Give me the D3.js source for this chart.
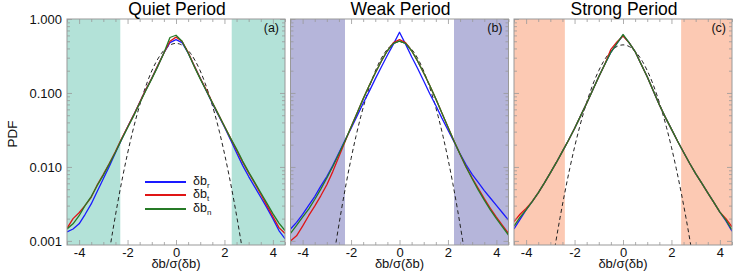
<!DOCTYPE html>
<html>
<head>
<meta charset="utf-8">
<script src="https://cdn.jsdelivr.net/npm/d3@7"></script>
<style>
  html, body { margin: 0; padding: 0; background: #fff; }
  svg { display: block; font-family: "Liberation Sans", Arial, Helvetica, sans-serif; }
</style>
</head>
<body>
<svg id="chart" width="752" height="272"></svg>
<script>
// ---------------- data ----------------
const panelTitles = ["Quiet Period", "Weak Period", "Strong Period"];
const panelTags = ["(a)", "(b)", "(c)"];
const seriesNames = ["r", "t", "n"];
const shadeEdges = [2.3, 2.25, 2.4];

const xBins = [-4.5, -4.25, -4.0, -3.75, -3.5, -3.25, -3.0, -2.75, -2.5, -2.25, -2.0, -1.75, -1.5, -1.25, -1.0, -0.75, -0.5, -0.25,
  0, 0.25, 0.5, 0.75, 1.0, 1.25, 1.5, 1.75, 2.0, 2.25, 2.5, 2.75, 3.0, 3.25, 3.5, 3.75, 4.0, 4.25, 4.5];

// Quiet period
const quietBr = [0.00132, 0.00145, 0.00170, 0.00229, 0.00316, 0.00468, 0.00692, 0.0102, 0.0155, 0.0234, 0.0347, 0.0501, 0.0741, 0.110, 0.158, 0.234, 0.347, 0.479,
  0.525, 0.479, 0.347, 0.234, 0.158, 0.107, 0.0724, 0.0501, 0.0347, 0.0234, 0.0155, 0.0105, 0.00741, 0.00537, 0.00389, 0.00282, 0.00200, 0.00138, 0.00107];
const quietBt = [0.00148, 0.00200, 0.00240, 0.00302, 0.00389, 0.00575, 0.00794, 0.0112, 0.0162, 0.0240, 0.0347, 0.0501, 0.0741, 0.110, 0.158, 0.234, 0.347, 0.501,
  0.569, 0.501, 0.355, 0.234, 0.158, 0.110, 0.0741, 0.0513, 0.0355, 0.0245, 0.0170, 0.0117, 0.00832, 0.00603, 0.00427, 0.00302, 0.00214, 0.00151, 0.00126];
const quietBn = [0.00145, 0.00170, 0.00219, 0.00302, 0.00398, 0.00562, 0.00776, 0.0110, 0.0158, 0.0234, 0.0339, 0.0490, 0.0724, 0.107, 0.155, 0.229, 0.347, 0.562,
  0.603, 0.501, 0.347, 0.229, 0.155, 0.107, 0.0741, 0.0513, 0.0355, 0.0245, 0.0174, 0.0120, 0.00851, 0.00617, 0.00447, 0.00324, 0.00234, 0.00174, 0.00138];

// Weak period
const weakBr = [0.00145, 0.00178, 0.00229, 0.00302, 0.00398, 0.00550, 0.00741, 0.0105, 0.0155, 0.0229, 0.0331, 0.0490, 0.0724, 0.105, 0.155, 0.224, 0.324, 0.457,
  0.661, 0.457, 0.309, 0.214, 0.145, 0.0977, 0.0676, 0.0457, 0.0316, 0.0219, 0.0151, 0.0107, 0.00794, 0.00617, 0.00479, 0.00380, 0.00302, 0.00240, 0.00191];
const weakBt = [0.00100, 0.00117, 0.00158, 0.00219, 0.00295, 0.00407, 0.00575, 0.00871, 0.0138, 0.0219, 0.0347, 0.0537, 0.0832, 0.126, 0.186, 0.269, 0.372, 0.479,
  0.525, 0.479, 0.372, 0.269, 0.186, 0.126, 0.0832, 0.0537, 0.0347, 0.0224, 0.0148, 0.0100, 0.00708, 0.00513, 0.00372, 0.00275, 0.00209, 0.00162, 0.00126];
const weakBn = [0.00126, 0.00162, 0.00209, 0.00269, 0.00363, 0.00501, 0.00708, 0.0102, 0.0151, 0.0224, 0.0347, 0.0537, 0.0832, 0.126, 0.186, 0.269, 0.372, 0.468,
  0.501, 0.468, 0.372, 0.269, 0.186, 0.126, 0.0832, 0.0537, 0.0347, 0.0224, 0.0148, 0.0100, 0.00692, 0.00490, 0.00355, 0.00263, 0.00200, 0.00155, 0.00120];

// Strong period
const strongBr = [0.00145, 0.00195, 0.00263, 0.00339, 0.00447, 0.00603, 0.00832, 0.0115, 0.0162, 0.0229, 0.0331, 0.0490, 0.0724, 0.110, 0.166, 0.245, 0.355, 0.468,
  0.603, 0.479, 0.363, 0.245, 0.166, 0.107, 0.0692, 0.0468, 0.0324, 0.0224, 0.0158, 0.0112, 0.00813, 0.00603, 0.00447, 0.00331, 0.00245, 0.00186, 0.00135];
const strongBt = [0.00182, 0.00229, 0.00275, 0.00339, 0.00447, 0.00603, 0.00832, 0.0115, 0.0162, 0.0229, 0.0331, 0.0490, 0.0724, 0.110, 0.166, 0.245, 0.389, 0.490,
  0.589, 0.479, 0.363, 0.245, 0.166, 0.107, 0.0692, 0.0468, 0.0324, 0.0224, 0.0158, 0.0112, 0.00813, 0.00603, 0.00447, 0.00331, 0.00245, 0.00200, 0.00155];
const strongBn = [0.00158, 0.00209, 0.00263, 0.00339, 0.00447, 0.00603, 0.00832, 0.0115, 0.0162, 0.0229, 0.0331, 0.0490, 0.0724, 0.110, 0.166, 0.245, 0.355, 0.468,
  0.617, 0.479, 0.363, 0.245, 0.166, 0.107, 0.0692, 0.0468, 0.0324, 0.0224, 0.0158, 0.0112, 0.00813, 0.00603, 0.00447, 0.00331, 0.00245, 0.00191, 0.00141];

// Gaussian reference (dashed)
const xGauss = [-3.0, -2.8, -2.6, -2.4, -2.2, -2.0, -1.8, -1.6, -1.4, -1.2, -1.0, -0.8, -0.6, -0.4, -0.2,
  0, 0.2, 0.4, 0.6, 0.8, 1.0, 1.2, 1.4, 1.6, 1.8, 2.0, 2.2, 2.4, 2.6, 2.8, 3.0];
const quietGauss = [0.000210, 0.000568, 0.00143, 0.00337, 0.00741, 0.0152, 0.0292, 0.0522, 0.0873, 0.136, 0.199, 0.270, 0.343, 0.407, 0.452,
  0.468, 0.452, 0.407, 0.343, 0.270, 0.199, 0.136, 0.0873, 0.0522, 0.0292, 0.0152, 0.00741, 0.00337, 0.00143, 0.000568, 0.000210];
const weakGauss = [0.000136, 0.00039, 0.00105, 0.0026, 0.0060, 0.0129, 0.0257, 0.0477, 0.0824, 0.132, 0.197, 0.274, 0.353, 0.423, 0.472,
  0.490, 0.472, 0.423, 0.353, 0.274, 0.197, 0.132, 0.0824, 0.0477, 0.0257, 0.0129, 0.0060, 0.0026, 0.00105, 0.00039, 0.000136];
const strongGauss = [0.000344, 0.000866, 0.00205, 0.00454, 0.00945, 0.0185, 0.0338, 0.0581, 0.0937, 0.142, 0.201, 0.268, 0.335, 0.393, 0.433,
  0.447, 0.433, 0.393, 0.335, 0.268, 0.201, 0.142, 0.0937, 0.0581, 0.0338, 0.0185, 0.00945, 0.00454, 0.00205, 0.000866, 0.000344];

const xTickValues = [-4, -2, 0, 2, 4];
const xTickLabels = ["-4", "-2", "0", "2", "4"];
const yTickValues = [0.001, 0.01, 0.1, 1];
const yTickLabels = ["0.001", "0.010", "0.100", "1.000"];

// ---------------- layout / style ----------------
const panelData = [
  { series: [quietBr, quietBt, quietBn], gauss: quietGauss },
  { series: [weakBr, weakBt, weakBn], gauss: weakGauss },
  { series: [strongBr, strongBt, strongBn], gauss: strongGauss }
];
const shadeColors = ["#b3e2d8", "#b5b5da", "#fcc9b3"];
const lineColors = ["#1a1aff", "#e01515", "#267a26"];
const panelLefts = [67, 290.5, 514];
const panelW = 218;
const plotTop = 19, plotBottom = 245;
const axisColor = "#999";

const svg = d3.select("#chart");
const y = d3.scaleLog().domain([0.00088, 1]).range([plotBottom, plotTop]);

const yMinor = [];
[0.001, 0.01, 0.1].forEach(d => { for (let k = 2; k <= 9; k++) yMinor.push(k * d); });
const xMinorVals = d3.range(-4.5, 4.51, 0.5).filter(v => !xTickValues.includes(v));

panelData.forEach((pd, i) => {
  const left = panelLefts[i];
  const x = d3.scaleLinear().domain([-4.5, 4.5]).range([left, left + panelW]);
  const g = svg.append("g");

  // shading
  const e = shadeEdges[i];
  g.append("rect").attr("x", x(-4.5)).attr("y", plotTop).attr("width", x(-e) - x(-4.5)).attr("height", plotBottom - plotTop).attr("fill", shadeColors[i]);
  g.append("rect").attr("x", x(e)).attr("y", plotTop).attr("width", x(4.5) - x(e)).attr("height", plotBottom - plotTop).attr("fill", shadeColors[i]);

  // clip
  const clipId = "clip" + i;
  svg.append("clipPath").attr("id", clipId).append("rect")
    .attr("x", left).attr("y", plotTop).attr("width", panelW).attr("height", plotBottom - plotTop);
  const plot = g.append("g").attr("clip-path", `url(#${clipId})`);

  // gaussian dashed
  const gLine = d3.line().x((d, j) => x(xGauss[j])).y(d => y(d)).curve(d3.curveMonotoneX);
  plot.append("path").datum(pd.gauss).attr("d", gLine)
    .attr("fill", "none").attr("stroke", "#222").attr("stroke-width", 1).attr("stroke-dasharray", "4,3");

  // series
  const line = d3.line().x((d, j) => x(xBins[j])).y(d => y(d));
  pd.series.forEach((s, k) => {
    plot.append("path").datum(s).attr("d", line)
      .attr("fill", "none").attr("stroke", lineColors[k]).attr("stroke-width", 1.3).attr("stroke-linejoin", "round");
  });

  // axes: ticks inward on all sides
  const xb = g.append("g").attr("transform", `translate(0,${plotBottom})`)
    .call(d3.axisBottom(x).tickValues(xTickValues).tickSize(-5).tickPadding(3)
      .tickFormat((d, j) => xTickLabels[j]));
  xb.selectAll("text").attr("font-size", 13).attr("fill", "#111").attr("font-family", "Liberation Sans, Arial, sans-serif");
  const xbm = g.append("g").attr("transform", `translate(0,${plotBottom})`)
    .call(d3.axisBottom(x).tickValues(xMinorVals).tickSize(-3).tickFormat(""));
  const xt = g.append("g").attr("transform", `translate(0,${plotTop})`)
    .call(d3.axisTop(x).tickValues(xTickValues).tickSize(-5).tickFormat(""));
  const xtm = g.append("g").attr("transform", `translate(0,${plotTop})`)
    .call(d3.axisTop(x).tickValues(xMinorVals).tickSize(-3).tickFormat(""));

  const yl = g.append("g").attr("transform", `translate(${left},0)`)
    .call(d3.axisLeft(y).tickValues(yTickValues).tickSize(-5).tickPadding(5)
      .tickFormat((d, j) => i === 0 ? yTickLabels[j] : ""));
  yl.selectAll("text").attr("font-size", 13).attr("fill", "#111").attr("font-family", "Liberation Sans, Arial, sans-serif");
  const ylm = g.append("g").attr("transform", `translate(${left},0)`)
    .call(d3.axisLeft(y).tickValues(yMinor).tickSize(-3).tickFormat(""));
  const yr = g.append("g").attr("transform", `translate(${left + panelW},0)`)
    .call(d3.axisRight(y).tickValues(yTickValues).tickSize(-5).tickFormat(""));
  const yrm = g.append("g").attr("transform", `translate(${left + panelW},0)`)
    .call(d3.axisRight(y).tickValues(yMinor).tickSize(-3).tickFormat(""));

  [xb, xbm, xt, xtm, yl, ylm, yr, yrm].forEach(a => {
    a.select(".domain").remove();
    a.selectAll(".tick line").attr("stroke", axisColor).attr("stroke-width", 0.8);
  });

  // frame
  g.append("rect").attr("x", left).attr("y", plotTop).attr("width", panelW).attr("height", plotBottom - plotTop)
    .attr("fill", "none").attr("stroke", axisColor).attr("stroke-width", 1);

  // title
  g.append("text").attr("x", left + panelW / 2 + 1).attr("y", 15).attr("text-anchor", "middle")
    .attr("font-size", 17.5).attr("fill", "#000").text(panelTitles[i]);
  // tag
  g.append("text").attr("x", left + panelW - 6).attr("y", 32).attr("text-anchor", "end")
    .attr("font-size", 12.5).attr("fill", "#111").text(panelTags[i]);
  // x label
  g.append("text").attr("x", left + panelW / 2).attr("y", 267.5).attr("text-anchor", "middle")
    .attr("font-size", 13).attr("fill", "#111").text("δb/σ(δb)");
});

// y label
svg.append("text").attr("transform", "translate(17,134) rotate(-90)").attr("text-anchor", "middle")
  .attr("font-size", 13.5).attr("fill", "#111").text("PDF");

// legend in panel (a)
const legY = [182, 195, 209];
seriesNames.forEach((nm, k) => {
  svg.append("line").attr("x1", 145).attr("x2", 186).attr("y1", legY[k]).attr("y2", legY[k])
    .attr("stroke", lineColors[k]).attr("stroke-width", 2);
  const t = svg.append("text").attr("x", 193).attr("y", legY[k] + 3).attr("font-size", 12.5).attr("fill", "#111");
  t.append("tspan").text("δb");
  t.append("tspan").attr("dy", 3).attr("font-size", 8).text(nm);
});
</script>
</body>
</html>
